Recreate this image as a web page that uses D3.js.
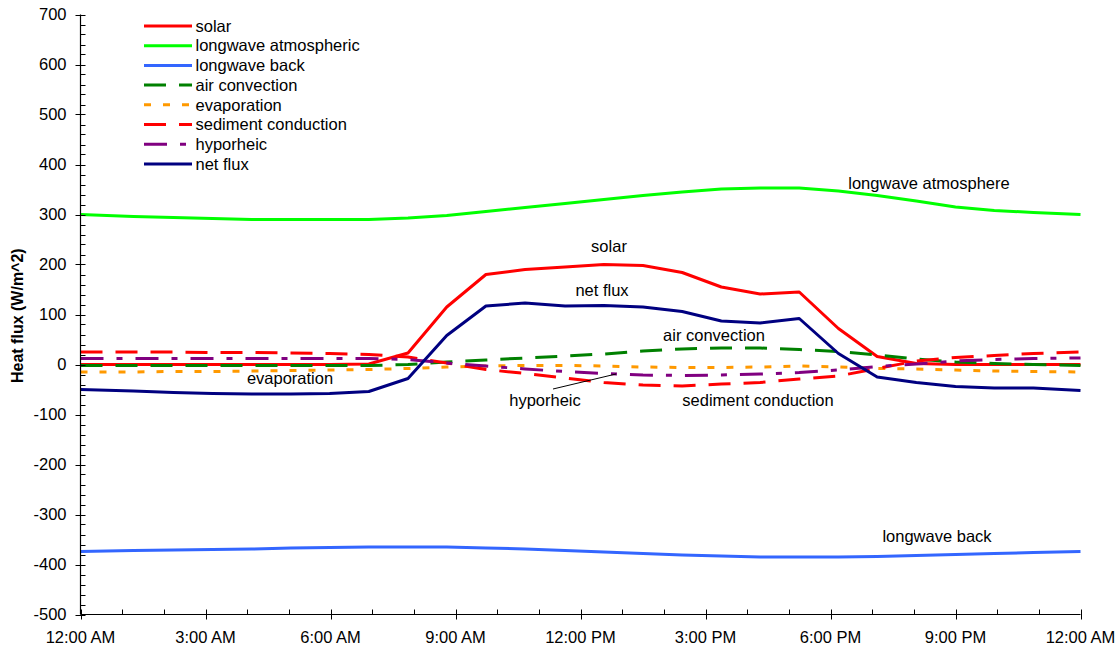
<!DOCTYPE html>
<html>
<head>
<meta charset="utf-8">
<script src="https://cdn.jsdelivr.net/npm/d3@7"></script>
<style>
  html, body { margin: 0; padding: 0; background: #fff; }
  svg { display: block; font-family: "Liberation Sans", Arial, sans-serif; }
</style>
</head>
<body>
<svg id="chart" width="1119" height="648"></svg>
<script>
// Time of each reading (hours after midnight)
const hours = [0, 1.27, 2.23, 3.17, 4.11, 5.05, 5.98, 6.92, 7.86, 8.79, 9.73, 10.67, 11.63,
               12.56, 13.50, 14.44, 15.38, 16.31, 17.25, 18.19, 19.12, 20.06, 21.00, 21.93, 22.87, 24];

// Heat flux components (W/m^2)
const solar       = [0, 0, 0, 0, 0, 0, 0, 1, 23, 115, 180, 190, 195, 200, 198, 184, 155, 141, 145, 72, 16, 2, 0, 0, 0, 0];
const lwAtmos     = [300, 296, 294, 292, 290, 290, 290, 290, 293, 298, 306, 314, 322, 330, 338, 345, 351, 353, 353, 347, 338, 327, 315, 308, 304, 300];
const lwBack      = [-374, -372, -371, -370, -369, -367, -366, -365, -365, -365, -367, -369, -372, -375, -378, -381, -383, -385, -385, -385, -384, -382, -380, -378, -376, -374];
const airConv     = [-2, -2, -2, -2, -2, -2, -2, -2, 0, 5, 9, 13, 17, 21, 27, 31, 33, 33, 30, 26, 19, 11, 5, 2, 0, -2];
const evaporation = [-15, -15, -14, -14, -13, -12, -11, -10, -8, -5, -3, -2, -2, -3, -5, -6, -6, -5, -3, -5, -8, -9, -11, -13, -14, -15];
const sediment    = [25, 25, 25, 24, 24, 23, 22, 20, 15, 3, -10, -18, -27, -36, -41, -43, -39, -36, -29, -23, -8, 7, 14, 18, 22, 25];
const hyporheic   = [12, 12, 12, 12, 12, 12, 12, 12, 10, 3, -3, -9, -14, -18, -21, -22, -21, -19, -16, -11, -4, 1, 7, 10, 12, 13];
const netFlux     = [-50, -53, -56, -58, -59, -59, -58, -54, -28, 58, 117, 123, 117, 118, 115, 106, 87, 83, 92, 22, -25, -36, -44, -47, -47, -52];

// Axis tick labels
const xTickHours  = [0, 3, 6, 9, 12, 15, 18, 21, 24];
const xTickLabels = ["12:00 AM", "3:00 AM", "6:00 AM", "9:00 AM", "12:00 PM", "3:00 PM", "6:00 PM", "9:00 PM", "12:00 AM"];
const yTicks      = [-500, -400, -300, -200, -100, 0, 100, 200, 300, 400, 500, 600, 700];

const seriesNames = ["solar", "longwave atmospheric", "longwave back", "air convection",
                     "evaporation", "sediment conduction", "hyporheic", "net flux"];
const seriesData  = [solar, lwAtmos, lwBack, airConv, evaporation, sediment, hyporheic, netFlux];
const seriesColor = ["#ff0000", "#00ff00", "#3366ff", "#008000", "#ff9900", "#ff0000", "#800080", "#000080"];
const seriesDash  = [null, null, null, "22,13", "7,12", "22,13", "23,13,6,13", null];

const svg = d3.select("#chart");
const plotL = 80.5, plotR = 1080.5, plotT = 14.5, plotB = 614.5;
const fs = 16.5;

const x = d3.scaleLinear().domain([0, 24]).range([plotL, plotR]);
const y = d3.scaleLinear().domain([-500, 700]).range([plotB, plotT]);

// Series lines
const line = d3.line()
  .x((d, i) => x(hours[i]))
  .y(d => y(d));

const g = svg.append("g");
seriesData.forEach((vals, k) => {
  g.append("path")
    .datum(vals)
    .attr("d", line)
    .attr("fill", "none")
    .attr("stroke", seriesColor[k])
    .attr("stroke-width", 3)
    .attr("stroke-linejoin", "round")
    .attr("stroke-dasharray", seriesDash[k]);
});

// Y axis: minor ticks every 20, major every 100
const yAxis = svg.append("g").attr("transform", `translate(${plotL},0)`);
yAxis.append("line").attr("x1", 0).attr("x2", 0).attr("y1", plotT).attr("y2", plotB)
  .attr("stroke", "#000").attr("stroke-width", 1.2);
d3.range(-500, 701, 20).forEach(v => {
  const major = v % 100 === 0;
  yAxis.append("line")
    .attr("x1", major ? -5 : 0).attr("x2", 5)
    .attr("y1", Math.round(y(v)) + 0.5).attr("y2", Math.round(y(v)) + 0.5)
    .attr("stroke", "#000").attr("stroke-width", 1);
});
yAxis.selectAll("text.ytick").data(yTicks).enter().append("text")
  .attr("class", "ytick")
  .attr("x", -14).attr("y", d => y(d)).attr("dy", "0.36em")
  .attr("text-anchor", "end").attr("font-size", fs).attr("fill", "#000")
  .text(d => d);

// X axis: minor ticks hourly, major every 3 hours
const xAxis = svg.append("g").attr("transform", `translate(0,${plotB})`);
xAxis.append("line").attr("x1", plotL).attr("x2", plotR).attr("y1", 0).attr("y2", 0)
  .attr("stroke", "#000").attr("stroke-width", 1.2);
d3.range(0, 25, 1).forEach(h => {
  const major = h % 3 === 0;
  xAxis.append("line")
    .attr("x1", Math.round(x(h)) + 0.5).attr("x2", Math.round(x(h)) + 0.5)
    .attr("y1", -5).attr("y2", major ? 5 : 0)
    .attr("stroke", "#000").attr("stroke-width", 1);
});
xAxis.selectAll("text.xtick").data(xTickHours).enter().append("text")
  .attr("class", "xtick")
  .attr("x", d => x(d)).attr("y", 28)
  .attr("text-anchor", "middle").attr("font-size", fs).attr("fill", "#000")
  .text((d, i) => xTickLabels[i]);

// Y axis title
svg.append("text")
  .attr("transform", "translate(23,383) rotate(-90)")
  .attr("text-anchor", "start").attr("font-size", 16).attr("font-weight", "bold")
  .text("Heat flux (W/m^2)");

// Legend
const legend = svg.append("g");
seriesNames.forEach((name, k) => {
  const ly = 26 + k * 19.7;
  legend.append("line")
    .attr("x1", 144).attr("x2", 192).attr("y1", ly).attr("y2", ly)
    .attr("stroke", seriesColor[k]).attr("stroke-width", 3)
    .attr("stroke-dasharray", seriesDash[k]);
  legend.append("text")
    .attr("x", 195.5).attr("y", ly).attr("dy", "0.35em")
    .attr("font-size", fs).attr("fill", "#000")
    .text(name);
});

// In-plot annotations
const notes = [
  { text: "longwave atmosphere", cx: 929, by: 189 },
  { text: "solar", cx: 609, by: 252 },
  { text: "net flux", cx: 602, by: 296 },
  { text: "air convection", cx: 714, by: 341 },
  { text: "evaporation", cx: 290, by: 384 },
  { text: "hyporheic", cx: 545, by: 406 },
  { text: "sediment conduction", cx: 758, by: 406 },
  { text: "longwave back", cx: 937, by: 542 }
];
svg.selectAll("text.note").data(notes).enter().append("text")
  .attr("class", "note")
  .attr("x", d => d.cx).attr("y", d => d.by)
  .attr("text-anchor", "middle").attr("font-size", fs).attr("fill", "#000")
  .text(d => d.text);

// Leader line from the hyporheic label to its curve
svg.append("line")
  .attr("x1", 553).attr("y1", 389).attr("x2", 616).attr("y2", 374)
  .attr("stroke", "#000").attr("stroke-width", 1);
</script>
</body>
</html>
